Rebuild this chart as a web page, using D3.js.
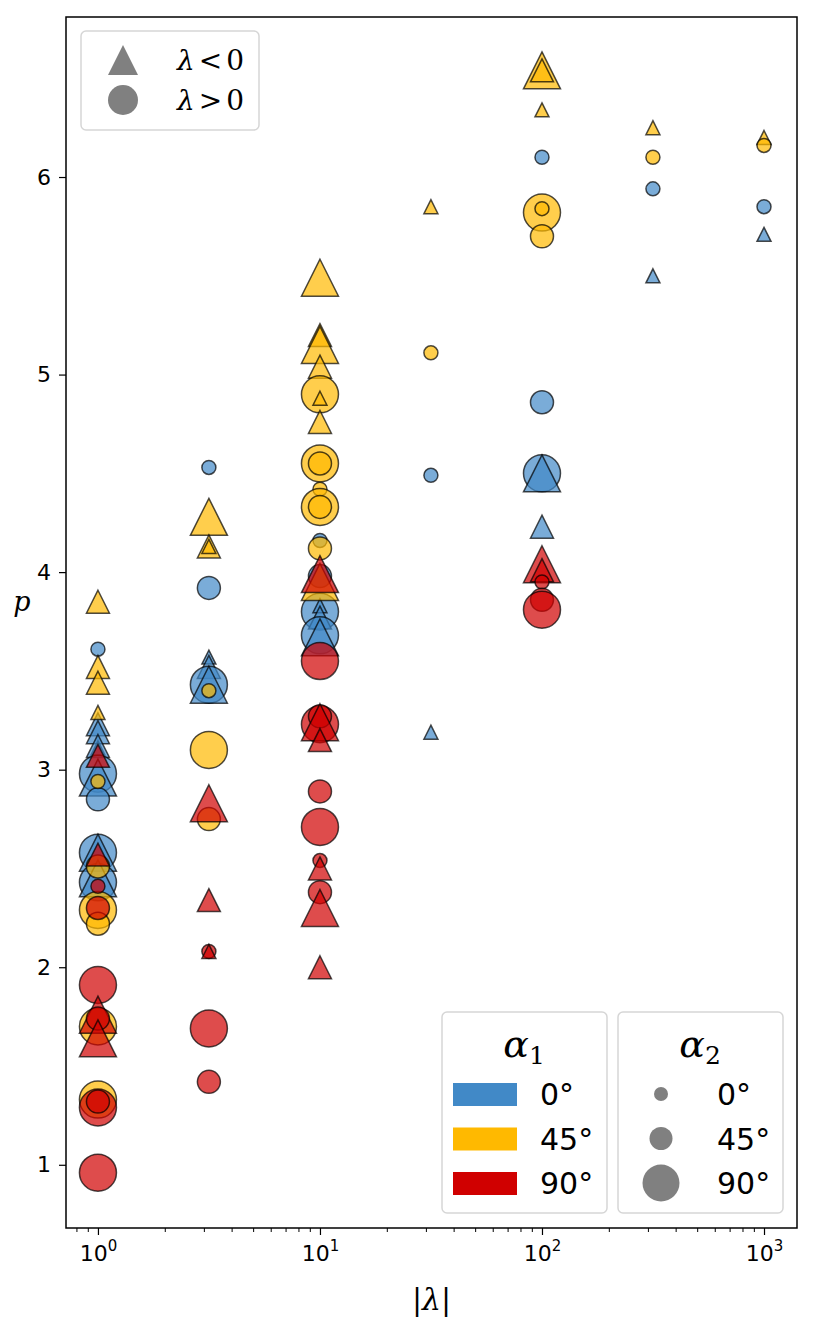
<!DOCTYPE html>
<html>
<head>
<meta charset="utf-8">
<script src="https://cdn.jsdelivr.net/npm/d3@7"></script>
<style>
body{margin:0;background:#fff;}
</style>
</head>
<body>
<div id="chart"></div>
<script>
// each point: [signed lambda, alpha2 (deg), p]; lambda < 0 -> triangle, lambda > 0 -> circle
var alpha1_0 = [
    [1, 0, 3.61], [-1, 45, 3.23], [-1, 45, 3.19], [-1, 0, 3.11], [-1, 45, 3.12],
    [1, 90, 2.98], [-1, 90, 2.96], [1, 45, 2.85],
    [1, 90, 2.58], [-1, 90, 2.58], [1, 90, 2.43], [-1, 90, 2.45],
    [3.16, 0, 4.53], [3.16, 45, 3.92], [-3.16, 0, 3.57], [-3.16, 45, 3.52], [3.16, 90, 3.43], [-3.16, 90, 3.43],
    [10, 0, 4.16], [10, 45, 3.98], [10, 90, 3.80], [-10, 0, 3.83], [-10, 45, 3.77], [10, 90, 3.68], [-10, 90, 3.67],
    [31.6, 0, 4.49], [-31.6, 0, 3.19],
    [100, 0, 6.10], [100, 45, 4.86], [100, 90, 4.50], [-100, 90, 4.50], [-100, 45, 4.23],
    [316, 0, 5.94], [-316, 0, 5.50],
    [1000, 0, 5.85], [-1000, 0, 5.71]
];
var alpha1_45 = [
    [-1, 45, 3.85], [-1, 45, 3.52], [-1, 45, 3.44], [-1, 0, 3.29], [1, 0, 2.94],
    [1, 45, 2.51], [1, 90, 2.29], [1, 45, 2.22], [1, 90, 1.70], [1, 90, 1.33],
    [-3.16, 90, 4.28], [-3.16, 45, 4.13], [-3.16, 0, 4.13], [3.16, 0, 3.40], [3.16, 90, 3.10], [3.16, 45, 2.75],
    [-10, 90, 5.49], [-10, 45, 5.20], [-10, 90, 5.15], [-10, 45, 5.04], [10, 90, 4.90], [-10, 0, 4.88],
    [-10, 45, 4.76], [10, 90, 4.55], [10, 45, 4.55], [10, 0, 4.42], [10, 90, 4.33], [10, 45, 4.33],
    [10, 45, 4.12], [-10, 90, 3.95],
    [-31.6, 0, 5.85], [31.6, 0, 5.11],
    [-100, 90, 6.54], [-100, 45, 6.54], [-100, 0, 6.34], [100, 90, 5.82], [100, 0, 5.84], [100, 45, 5.70],
    [-316, 0, 6.25], [316, 0, 6.10],
    [-1000, 0, 6.20], [1000, 0, 6.16]
];
var alpha1_90 = [
    [-1, 45, 3.07], [-1, 45, 2.57], [1, 0, 2.41], [1, 45, 2.30], [1, 90, 1.91], [-1, 90, 1.76],
    [1, 45, 1.74], [-1, 90, 1.64], [1, 90, 1.29], [1, 45, 1.32], [1, 90, 0.96],
    [-3.16, 90, 2.83], [-3.16, 45, 2.34], [3.16, 0, 2.08], [-3.16, 0, 2.08], [3.16, 90, 1.69], [3.16, 45, 1.42],
    [-10, 90, 3.99], [10, 90, 3.55], [10, 90, 3.23], [10, 45, 3.27], [-10, 90, 3.24], [-10, 45, 3.15],
    [10, 45, 2.89], [10, 90, 2.71], [10, 0, 2.54], [-10, 45, 2.50], [10, 45, 2.38], [-10, 90, 2.30], [-10, 45, 2.00],
    [-100, 90, 4.04], [-100, 45, 4.01], [100, 0, 3.95], [100, 45, 3.86], [100, 90, 3.81]
];
var alpha1Values = [0, 45, 90];
var alpha2Values = [0, 45, 90];
var xTicks = [1, 10, 100, 1000];
var yTicks = [1, 2, 3, 4, 5, 6];

(function(){
    var W = 814, H = 1330;
    var plot = {left: 66, right: 797, top: 17, bottom: 1228};
    var sans = "'DejaVu Sans', sans-serif";
    var serif = "'DejaVu Serif', 'Liberation Serif', serif";

    var svg = d3.select("#chart").append("svg").attr("width", W).attr("height", H);

    var x = d3.scaleLog().domain([0.718, 1408]).range([plot.left, plot.right]);
    var y = d3.scaleLinear().domain([0.68, 6.81]).range([plot.bottom, plot.top]);
    var color = d3.scaleOrdinal().domain(alpha1Values).range(["#4189c7", "#ffb900", "#d00000"]);
    var size = d3.scaleOrdinal().domain(alpha2Values).range([14, 23, 37]);

    function markerPath(lam, d){
        var h = d/2;
        if (lam < 0) return "M0,"+(-h)+"L"+h+","+h+"L"+(-h)+","+h+"Z";
        return d3.symbol(d3.symbolCircle, Math.PI*h*h)();
    }

    // scatter
    var series = [{a1: 0, pts: alpha1_0}, {a1: 45, pts: alpha1_45}, {a1: 90, pts: alpha1_90}];
    series.forEach(function(s){
        svg.append("g").selectAll("path").data(s.pts).enter().append("path")
            .attr("transform", function(d){ return "translate("+x(Math.abs(d[0]))+","+y(d[2])+")"; })
            .attr("d", function(d){ return markerPath(d[0], size(d[1])); })
            .attr("fill", color(s.a1)).attr("fill-opacity", 0.7)
            .attr("stroke", "#000").attr("stroke-opacity", 0.7).attr("stroke-width", 1.5);
    });

    // x axis (major + minor)
    var gx = svg.append("g").attr("transform", "translate(0,"+plot.bottom+")")
        .call(d3.axisBottom(x).tickValues(xTicks).tickSize(7).tickFormat(""));
    gx.select(".domain").remove();
    gx.selectAll(".tick line").attr("stroke", "#000").attr("stroke-width", 1.2);
    gx.selectAll(".tick text").remove();
    gx.selectAll(".tick").append("text")
        .attr("y", 33).attr("text-anchor", "middle").attr("fill", "#000")
        .attr("font-family", sans).attr("font-size", 22)
        .each(function(d){
            var t = d3.select(this);
            t.append("tspan").text("10");
            t.append("tspan").attr("dy", -10).attr("font-size", 15).text(Math.round(Math.log10(d)));
        });

    var minor = [];
    [0.1, 1, 10, 100, 1000].forEach(function(dec){
        for (var k = 2; k < 10; k++){
            var v = dec*k;
            if (v > x.domain()[0] && v < x.domain()[1]) minor.push(v);
        }
    });
    var gm = svg.append("g").attr("transform", "translate(0,"+plot.bottom+")")
        .call(d3.axisBottom(x).tickValues(minor).tickSize(4).tickFormat(""));
    gm.select(".domain").remove();
    gm.selectAll(".tick line").attr("stroke", "#000").attr("stroke-width", 1);

    // y axis
    var gy = svg.append("g").attr("transform", "translate("+plot.left+",0)")
        .call(d3.axisLeft(y).tickValues(yTicks).tickSize(7).tickPadding(8).tickFormat(d3.format("d")));
    gy.select(".domain").remove();
    gy.selectAll(".tick line").attr("stroke", "#000").attr("stroke-width", 1.2);
    gy.selectAll(".tick text").attr("fill", "#000").attr("font-family", sans).attr("font-size", 22);

    // frame
    svg.append("rect").attr("x", plot.left).attr("y", plot.top)
        .attr("width", plot.right-plot.left).attr("height", plot.bottom-plot.top)
        .attr("fill", "none").attr("stroke", "#000").attr("stroke-width", 1.5);

    // axis labels
    var xl = svg.append("text").attr("x", (plot.left+plot.right)/2).attr("y", 1310).attr("text-anchor", "middle")
        .attr("font-family", serif).attr("font-size", 30);
    xl.append("tspan").text("|");
    xl.append("tspan").attr("font-style", "italic").text("λ");
    xl.append("tspan").text("|");
    svg.append("text").attr("x", 22).attr("y", 611).attr("text-anchor", "middle")
        .attr("font-family", serif).attr("font-size", 27).attr("font-style", "italic").text("p");

    // legend boxes
    function legendBox(x0, y0, w, h){
        svg.append("rect").attr("x", x0).attr("y", y0).attr("width", w).attr("height", h).attr("rx", 5)
            .attr("fill", "#fff").attr("fill-opacity", 0.8).attr("stroke", "#d6d6d6").attr("stroke-width", 1.5);
    }

    // sign legend
    legendBox(81, 31, 178, 99);
    var signs = [{lam: -1, label: "<", y: 60}, {lam: 1, label: ">", y: 100}];
    signs.forEach(function(s){
        svg.append("path").attr("transform", "translate(123,"+s.y+")")
            .attr("d", markerPath(s.lam, 30)).attr("fill", "#808080");
        var t = svg.append("text").attr("x", 177).attr("y", s.y+10)
            .attr("font-family", serif).attr("font-size", 28);
        t.append("tspan").attr("font-style", "italic").text("λ");
        t.append("tspan").attr("dx", 4).text(s.label);
        t.append("tspan").attr("dx", 4).text("0");
    });

    // alpha1 legend
    legendBox(442, 1012, 165, 201);
    var t1 = svg.append("text").attr("x", 524).attr("y", 1057).attr("text-anchor", "middle")
        .attr("font-family", serif).attr("font-size", 38);
    t1.append("tspan").attr("font-style", "italic").text("α");
    t1.append("tspan").attr("dy", 7).attr("font-size", 25).text("1");
    alpha1Values.forEach(function(a, i){
        var yy = 1083 + i*44.5;
        svg.append("rect").attr("x", 453).attr("y", yy).attr("width", 64).attr("height", 23).attr("fill", color(a));
        svg.append("text").attr("x", 540).attr("y", yy+22).attr("font-family", sans).attr("font-size", 30).text(a+"°");
    });

    // alpha2 legend
    legendBox(618, 1012, 165, 201);
    var t2 = svg.append("text").attr("x", 700).attr("y", 1057).attr("text-anchor", "middle")
        .attr("font-family", serif).attr("font-size", 38);
    t2.append("tspan").attr("font-style", "italic").text("α");
    t2.append("tspan").attr("dy", 7).attr("font-size", 25).text("2");
    alpha2Values.forEach(function(a, i){
        var yy = 1094 + i*44.5;
        svg.append("path").attr("transform", "translate(661,"+yy+")")
            .attr("d", markerPath(1, size(a))).attr("fill", "#808080");
        svg.append("text").attr("x", 717).attr("y", yy+11).attr("font-family", sans).attr("font-size", 30).text(a+"°");
    });
})();
</script>
</body>
</html>
